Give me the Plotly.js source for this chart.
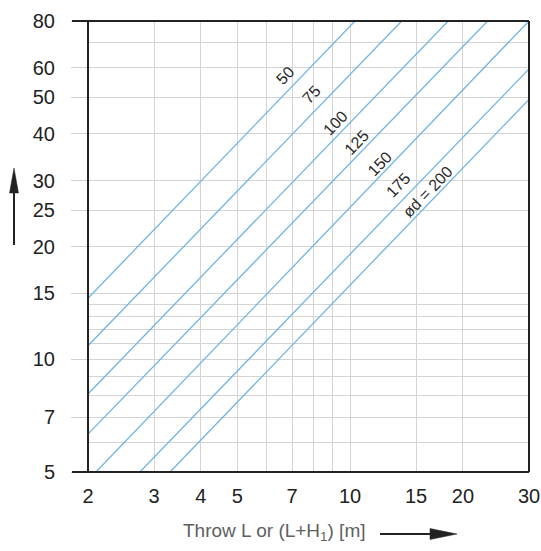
<!DOCTYPE html>
<html>
<head>
<meta charset="utf-8">
<script src="https://cdn.plot.ly/plotly-3.0.1.min.js"></script>
<style>
html,body{margin:0;padding:0;background:#fff;}
#chart{width:541px;height:551px;}
</style>
</head>
<body>
<div id="chart"></div>
<script>
// Line labels (duct diameter)
const diameters = ['50', '75', '100', '125', '150', '175', 'ød = 200'];
// Line endpoints (throw [m], value)
const xStart = [2, 2, 2, 2, 2.10, 2.75, 3.31];
const yStart = [14.55, 10.87, 8.08, 6.31, 5, 5, 5];
const xEnd = [10.31, 13.73, 18.27, 23.27, 30, 30, 30];
const yEnd = [80, 80, 80, 80, 80, 59.6, 49.4];
// Label anchor positions
const labelX = [6.71, 7.90, 9.17, 10.40, 12.01, 13.50, 16.14];
const labelY = [57.4, 50.8, 42.8, 38.0, 33.4, 29.2, 28.0];

// Axis ticks
const xTicks = [2, 3, 4, 5, 7, 10, 15, 20, 30];
const xMinor = [6, 8, 9];
const yTicks = [5, 7, 10, 15, 20, 25, 30, 40, 50, 60, 80];
const yMinor = [6, 8, 9, 11, 12, 13, 14, 70];

const FONT = '"Liberation Sans", Arial, sans-serif';
const LINE_COLOR = '#70b4e4';
const EPS = 1e-5;

const traces = diameters.map((d, i) => ({
  type: 'scatter',
  mode: 'lines',
  name: d,
  x: [xStart[i], xEnd[i]],
  y: [yStart[i], yEnd[i]],
  line: {color: LINE_COLOR, width: 1.3},
  hoverinfo: 'skip',
  showlegend: false
}));

const annotations = diameters.map((d, i) => ({
  xref: 'x', yref: 'y',
  x: Math.log10(labelX[i]), y: Math.log10(labelY[i]),
  text: d, showarrow: false, textangle: -46,
  font: {family: FONT, size: 16, color: '#2a2a2a'}
}));

annotations.push({
  xref: 'paper', yref: 'paper',
  x: (274 - 88) / 441, y: (472 - 532) / 451,
  xanchor: 'center', yanchor: 'middle',
  text: 'Throw L or (L+H<sub>1</sub>) [m]', showarrow: false,
  font: {family: FONT, size: 19, color: '#606060'}
});

const px = v => (v - 88) / 441;
const py = v => (472 - v) / 451;
const DARK = '#222';

const shapes = [
  // frame
  {type: 'line', xref: 'paper', yref: 'paper', x0: px(72), x1: 1, y0: 1, y1: 1, line: {color: DARK, width: 2}},
  {type: 'line', xref: 'paper', yref: 'paper', x0: px(72), x1: 1, y0: 0, y1: 0, line: {color: DARK, width: 2}},
  {type: 'line', xref: 'paper', yref: 'paper', x0: 0, x1: 0, y0: 0, y1: 1, line: {color: DARK, width: 2}},
  {type: 'line', xref: 'paper', yref: 'paper', x0: 1, x1: 1, y0: 0, y1: 1, line: {color: DARK, width: 2}},
  // y arrow
  {type: 'line', xref: 'paper', yref: 'paper', x0: px(14), x1: px(14), y0: py(245), y1: py(190), line: {color: DARK, width: 2}},
  {type: 'path', xref: 'paper', yref: 'paper',
   path: `M ${px(14)} ${py(168)} L ${px(9.5)} ${py(193)} L ${px(18.5)} ${py(193)} Z`,
   fillcolor: DARK, line: {color: DARK, width: 0.5}},
  // x arrow
  {type: 'line', xref: 'paper', yref: 'paper', x0: px(380), x1: px(435), y0: py(534), y1: py(534), line: {color: DARK, width: 2}},
  {type: 'path', xref: 'paper', yref: 'paper',
   path: `M ${px(457)} ${py(534)} L ${px(430)} ${py(528.5)} L ${px(430)} ${py(539.5)} Z`,
   fillcolor: DARK, line: {color: DARK, width: 0.5}}
];

const layout = {
  width: 541, height: 551,
  margin: {l: 88, r: 12, t: 21, b: 79},
  paper_bgcolor: '#fff', plot_bgcolor: '#fff',
  font: {family: FONT, color: '#2a2a2a'},
  xaxis: {
    type: 'log',
    range: [Math.log10(2) - EPS, Math.log10(30) + EPS],
    tickvals: xTicks, ticktext: xTicks.map(String),
    ticks: '', showline: false, zeroline: false,
    showgrid: true, gridcolor: '#d4d4d4', gridwidth: 1,
    tickfont: {family: FONT, size: 20, color: '#222'},
    ticklabelstandoff: 10,
    minor: {tickvals: xMinor, showgrid: true, gridcolor: '#d4d4d4', gridwidth: 1, ticks: ''}
  },
  yaxis: {
    type: 'log',
    range: [Math.log10(5) - EPS, Math.log10(80) + EPS],
    tickvals: yTicks, ticktext: yTicks.map(String),
    ticks: 'outside', ticklen: 16, tickcolor: '#cfcfcf', tickwidth: 1,
    showline: false, zeroline: false,
    showgrid: true, gridcolor: '#d4d4d4', gridwidth: 1,
    tickfont: {family: FONT, size: 20, color: '#222'},
    ticklabelstandoff: 12,
    minor: {tickvals: yMinor, showgrid: true, gridcolor: '#d4d4d4', gridwidth: 1, ticks: ''}
  },
  shapes: shapes,
  annotations: annotations,
  showlegend: false
};

Plotly.newPlot('chart', traces, layout, {displayModeBar: false, staticPlot: true});
</script>
</body>
</html>
